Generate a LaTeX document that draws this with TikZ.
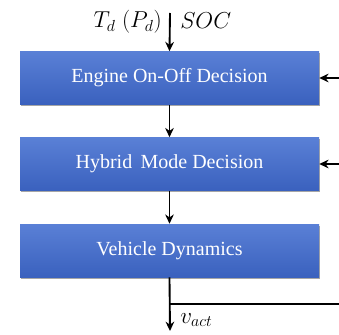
\documentclass[tikz,border=0pt]{standalone}
\usepackage{fontspec}
\setmainfont{Liberation Serif}
\usetikzlibrary{arrows.meta,shadows}
\definecolor{boxtop}{HTML}{5A80D6}
\definecolor{boxbot}{HTML}{3A61BE}
\tikzset{
  blockbox/.style={rectangle, minimum width=299*0.75pt, minimum height=53*0.75pt,
    top color=boxtop, bottom color=boxbot, draw=none, text=white,
    font=\fontsize{15pt}{17pt}\selectfont,
    drop shadow={shadow xshift=0.8pt, shadow yshift=-1.2pt, opacity=0.35, fill=black}},
  flow/.style={line width=1.4pt, -{Stealth[length=7pt,width=6.5pt]}},
  plain/.style={line width=1.4pt},
  lbl/.style={font=\fontsize{16.5pt}{18pt}\selectfont, inner sep=0pt}
}
\begin{document}
\begin{tikzpicture}[x=0.75pt,y=-0.75pt]
\useasboundingbox (0,0) rectangle (339,335);
% blocks
\node[blockbox] (eng) at (169.5,78) {Engine On-Off Decision};
\node[blockbox] (hyb) at (169.5,164) {Hybrid\, Mode Decision};
\node[blockbox] (veh) at (169.5,250.5) {Vehicle Dynamics};
% inputs and outputs
\coordinate (in) at (170,13);
\coordinate (r1) at (339,78);
\coordinate (r2) at (339,164);
\coordinate (out) at (170,331);
\coordinate (fb) at (170,304);
\coordinate (fbend) at (339,304);
\node[lbl, anchor=east] (tl) at (162,22) {$T_d\;(P_d)$};
\node[lbl, anchor=west] (soc) at (180,21) {$SOC$};
\node[lbl, anchor=west] (vact) at (180,320) {$v_{act}$};
% connectors
\draw[flow] (in) -- (eng.north);
\draw[flow] (eng.south) -- (hyb.north);
\draw[flow] (hyb.south) -- (veh.north);
\draw[flow] (veh.south) -- (out);
\draw[plain] (fb) -- (fbend);
\draw[flow] (r1) -- (eng.east);
\draw[flow] (r2) -- (hyb.east);
\end{tikzpicture}
\end{document}
